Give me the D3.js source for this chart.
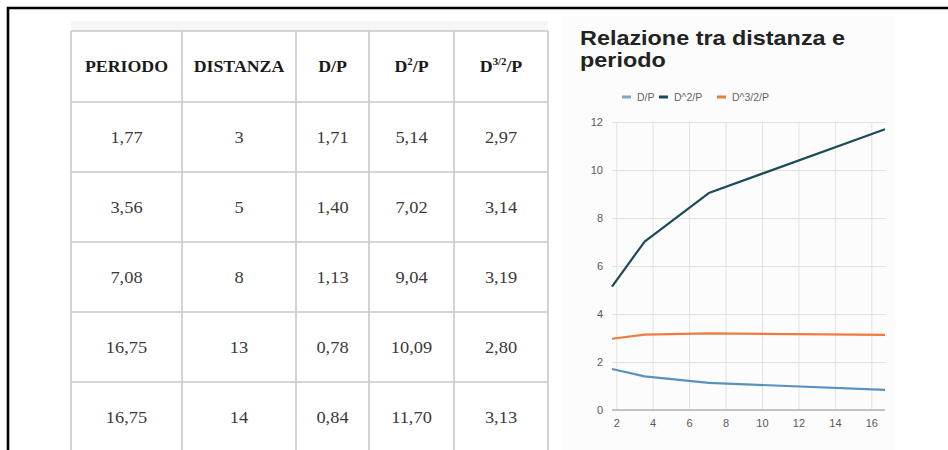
<!DOCTYPE html>
<html>
<head>
<meta charset="utf-8">
<script src="https://cdn.jsdelivr.net/npm/d3@7/dist/d3.min.js"></script>
<style>
  html, body { margin: 0; padding: 0; background: #fff; }
  svg { display: block; }
</style>
</head>
<body>
<svg id="view" width="948" height="450"></svg>
<script>
// ---- table data ----
const headers = ["PERIODO", "DISTANZA", "D/P", "D2/P", "D3/2/P"];
const periodo  = ["1,77", "3,56", "7,08", "16,75", "16,75"];
const distanza = ["3", "5", "8", "13", "14"];
const dp       = ["1,71", "1,40", "1,13", "0,78", "0,84"];
const d2p      = ["5,14", "7,02", "9,04", "10,09", "11,70"];
const d32p     = ["2,97", "3,14", "3,19", "2,80", "3,13"];

// ---- chart data ----
const chartTitle = ["Relazione tra distanza e", "periodo"];
const seriesNames = ["D/P", "D^2/P", "D^3/2/P"];
const chartPeriod = [1.77, 3.56, 7.08, 16.75];
const seriesDP   = [1.71, 1.40, 1.13, 0.84];
const seriesD2P  = [5.14, 7.02, 9.04, 11.70];
const seriesD32P = [2.97, 3.14, 3.19, 3.13];
const xTicks = [2, 4, 6, 8, 10, 12, 14, 16];
const yTicks = [0, 2, 4, 6, 8, 10, 12];

const svg = d3.select("#view");
const serif = "'Liberation Serif', 'DejaVu Serif', serif";
const sans = "'Liberation Sans', Arial, sans-serif";

// page frame
svg.append("path")
  .attr("d", "M8,450 L8,8 L948,8")
  .attr("fill", "none").attr("stroke", "#000").attr("stroke-width", 2.6);

// ---------------- table ----------------
const colEdges = [71, 182, 296, 369, 454, 548];
const rowTop = 31, headH = 71, rowH = 70;
const tbl = svg.append("g");

tbl.append("rect").attr("x", 71).attr("y", 21).attr("width", 477).attr("height", 10).attr("fill", "#f6f6f6");
tbl.append("rect").attr("x", 71).attr("y", 31).attr("width", 477).attr("height", 430).attr("fill", "#fff");

const rows = periodo.map((p, i) => [p, distanza[i], dp[i], d2p[i], d32p[i]]);
const rowY = d3.range(rows.length + 1).map(i => rowTop + headH + i * rowH);

// grid lines
const lineColor = "#c9c9c9";
tbl.selectAll("line.h").data([rowTop].concat(rowY)).join("line")
  .attr("x1", colEdges[0]).attr("x2", colEdges[colEdges.length - 1])
  .attr("y1", d => d).attr("y2", d => d)
  .attr("stroke", lineColor).attr("stroke-width", 1.6);
tbl.selectAll("line.v").data(colEdges).join("line")
  .attr("x1", d => d).attr("x2", d => d)
  .attr("y1", rowTop).attr("y2", 452)
  .attr("stroke", lineColor).attr("stroke-width", 1.6);

const colCenter = i => (colEdges[i] + colEdges[i + 1]) / 2;

// header cells (with superscripts)
const headerParts = [
  [["PERIODO", false]],
  [["DISTANZA", false]],
  [["D/P", false]],
  [["D", false], ["2", true], ["/P", false]],
  [["D", false], ["3/2", true], ["/P", false]]
];
headerParts.forEach((parts, i) => {
  const t = tbl.append("text")
    .attr("transform", `translate(${colCenter(i)},${rowTop + headH / 2 + 5.5}) scale(1.08,1)`)
    .attr("text-anchor", "middle")
    .attr("font-family", serif)
    .attr("font-weight", "bold").attr("font-size", 16.5).attr("fill", "#1a1a1a");
  parts.forEach(([s, sup], k) => {
    const ts = t.append("tspan").text(s);
    if (sup) ts.attr("font-size", 10).attr("dy", -7);
    else if (k > 0) ts.attr("dy", 7);
  });
});

// body cells
rows.forEach((r, ri) => {
  tbl.selectAll(null).data(r).join("text")
    .attr("transform", (d, ci) => `translate(${colCenter(ci)},${rowY[ri] + rowH / 2 + 6}) scale(1.05,1)`)
    .attr("text-anchor", "middle")
    .attr("font-family", serif)
    .attr("font-size", 17.5).attr("fill", "#3a3a3a")
    .text(d => d);
});

// ---------------- chart ----------------
const chart = svg.append("g");
chart.append("rect").attr("x", 563).attr("y", 16).attr("width", 332).attr("height", 434).attr("fill", "#fcfcfc");

chart.selectAll("text.title").data(chartTitle).join("text")
  .attr("transform", (d, i) => `translate(580,${45 + i * 22}) scale(1.17,1)`)
  .attr("font-family", sans)
  .attr("font-weight", "bold").attr("font-size", 20).attr("fill", "#222")
  .text(d => d);

const x = d3.scaleLinear().domain([1.77, 16.75]).range([612, 885]);
const y = d3.scaleLinear().domain([0, 12]).range([410, 122]);

// gridlines
chart.append("g")
  .attr("transform", "translate(612,0)")
  .call(d3.axisLeft(y).tickValues(yTicks).tickSize(-(885 - 612)).tickFormat(""))
  .call(g => g.select(".domain").remove())
  .call(g => g.selectAll(".tick line").attr("stroke", "#e2e2e2").attr("stroke-width", 1));
chart.append("g")
  .attr("transform", "translate(0,410)")
  .call(d3.axisBottom(x).tickValues(xTicks).tickSize(-(410 - 122)).tickFormat(""))
  .call(g => g.select(".domain").remove())
  .call(g => g.selectAll(".tick line").attr("stroke", "#e2e2e2").attr("stroke-width", 1));

// tick labels
const yAxis = chart.append("g").attr("transform", "translate(612,0)")
  .call(d3.axisLeft(y).tickValues(yTicks).tickSize(0).tickPadding(9));
yAxis.select(".domain").remove();
yAxis.selectAll("text").attr("font-family", sans)
  .attr("font-size", 11).attr("fill", "#5a5a5a");

const xAxis = chart.append("g").attr("transform", "translate(0,410)")
  .call(d3.axisBottom(x).tickValues(xTicks).tickSize(0).tickPadding(9));
xAxis.select(".domain").remove();
xAxis.selectAll("text").attr("font-family", sans)
  .attr("font-size", 11).attr("fill", "#5a5a5a");

// zero baseline
chart.append("line").attr("x1", 612).attr("x2", 885).attr("y1", y(0)).attr("y2", y(0))
  .attr("stroke", "#b5b5b5").attr("stroke-width", 1.6);

// series
const colors = ["#5b92bd", "#1b4a5a", "#f07b3f"];
const series = [seriesDP, seriesD2P, seriesD32P];
const line = d3.line().x((d, i) => x(chartPeriod[i])).y(d => y(d));
chart.selectAll("path.series").data(series).join("path")
  .attr("class", "series")
  .attr("d", d => line(d))
  .attr("fill", "none")
  .attr("stroke", (d, i) => colors[i])
  .attr("stroke-width", 2.2)
  .attr("stroke-linejoin", "round");

// legend
const legendX = [622, 659, 717];
const lg = chart.selectAll("g.legend").data(seriesNames).join("g")
  .attr("transform", (d, i) => `translate(${legendX[i]},97)`);
lg.append("line").attr("x1", 0).attr("x2", 9).attr("y1", 0).attr("y2", 0)
  .attr("stroke", (d, i) => i === 0 ? "#78a9d4" : colors[i]).attr("stroke-width", 3);
lg.append("text").attr("x", 15).attr("y", 4)
  .attr("font-family", sans)
  .attr("font-size", 10.5).attr("fill", "#666")
  .text(d => d);
</script>
</body>
</html>
